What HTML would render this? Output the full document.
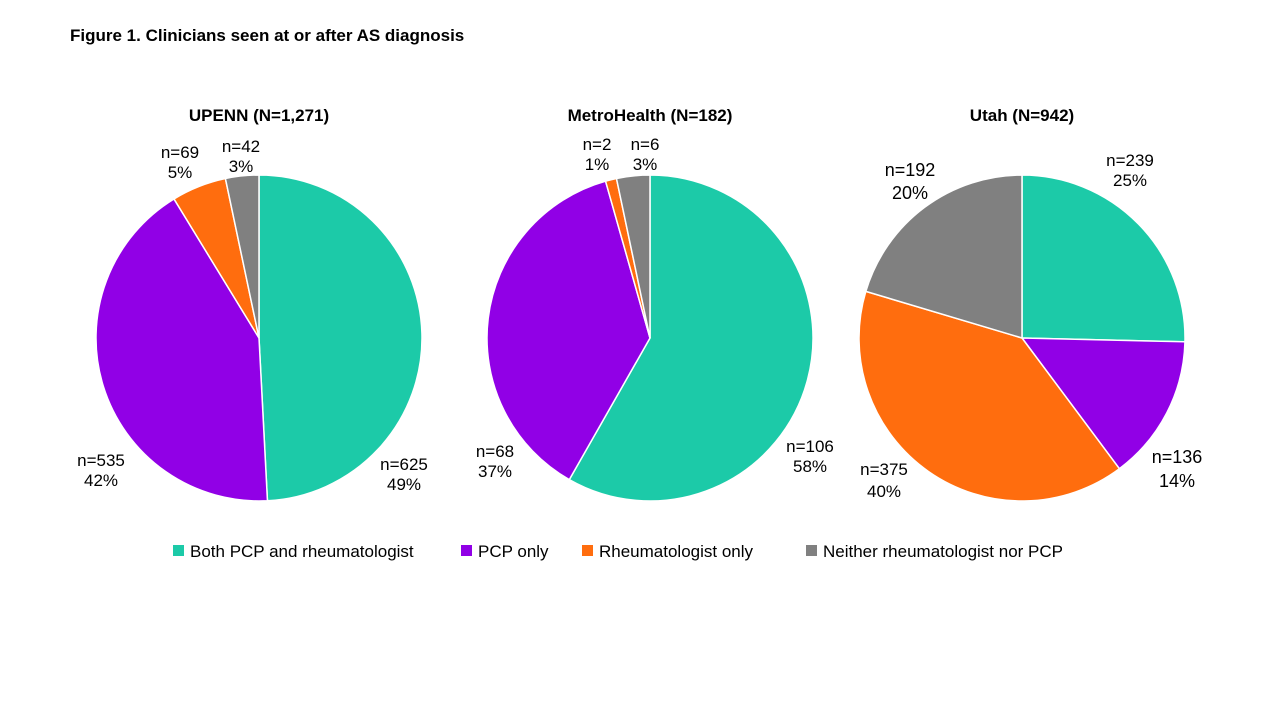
<!DOCTYPE html>
<html><head><meta charset="utf-8"><style>
html,body{margin:0;padding:0;background:#fff;}
body{width:1280px;height:720px;position:relative;overflow:hidden;font-family:"Liberation Sans",Arial,sans-serif;color:#000;}
svg{position:absolute;left:0;top:0;}
</style></head><body>
<svg id="chart" width="1280" height="720">
<text x="70" y="41" font-size="17" font-weight="bold">Figure 1. Clinicians seen at or after AS diagnosis</text>
<g id="pies"></g>
<g font-size="17">
<rect x="173" y="545" width="11" height="11" fill="#1ccaa8"/>
<text x="190" y="557">Both PCP and rheumatologist</text>
<rect x="461" y="545" width="11" height="11" fill="#9100e6"/>
<text x="478" y="557">PCP only</text>
<rect x="582" y="545" width="11" height="11" fill="#ff6d0e"/>
<text x="599" y="557">Rheumatologist only</text>
<rect x="806" y="545" width="11" height="11" fill="#808080"/>
<text x="823" y="557">Neither rheumatologist nor PCP</text>
</g>
<g font-size="17" text-anchor="middle">
<g>
<text x="180" y="158">n=69</text><text x="180" y="178">5%</text>
<text x="241" y="152">n=42</text><text x="241" y="172">3%</text>
<text x="101" y="466">n=535</text><text x="101" y="486">42%</text>
<text x="404" y="470">n=625</text><text x="404" y="490">49%</text>
</g>
<g>
<text x="597" y="150">n=2</text><text x="597" y="170">1%</text>
<text x="645" y="150">n=6</text><text x="645" y="170">3%</text>
<text x="495" y="457">n=68</text><text x="495" y="477">37%</text>
<text x="810" y="452">n=106</text><text x="810" y="472">58%</text>
</g>
<g font-size="18">
<text x="910" y="176">n=192</text><text x="910" y="199">20%</text>
<text x="1130" y="166" font-size="17">n=239</text><text x="1130" y="186" font-size="17">25%</text>
<text x="1177" y="463">n=136</text><text x="1177" y="487">14%</text>
<text x="884" y="475" font-size="17">n=375</text><text x="884" y="497" font-size="17">40%</text>
</g>
</g>
</svg>
<script>
const pieTitles = ["UPENN (N=1,271)", "MetroHealth (N=182)", "Utah (N=942)"];
const upennValues = [625, 535, 69, 42];
const metroValues = [106, 68, 2, 6];
const utahValues = [239, 136, 375, 192];
const categories = ["both", "pcp-only", "rheum-only", "neither"];
const colors = ["#1ccaa8", "#9100e6", "#ff6d0e", "#808080"];
const series = [upennValues, metroValues, utahValues];
const centersX = [259, 650, 1022];
const cy = 338, R = 163;
const ns = "http://www.w3.org/2000/svg";
const g = document.getElementById("pies");
function pt(cx, a){ return [cx + R*Math.sin(a), cy - R*Math.cos(a)]; }
series.forEach((vals, i) => {
  const cx = centersX[i];
  const total = vals.reduce((s,v)=>s+v,0);
  const t = document.createElementNS(ns, "text");
  
  
  t.setAttribute("x", cx); t.setAttribute("y", 121);
  t.setAttribute("text-anchor", "middle"); t.setAttribute("font-size", "17"); t.setAttribute("font-weight", "bold");
  t.textContent = pieTitles[i];
  g.appendChild(t);
  let a0 = 0;
  vals.forEach((v, j) => {
    const a1 = a0 + v / total * Math.PI * 2;
    const [x0,y0] = pt(cx,a0), [x1,y1] = pt(cx,a1);
    const large = (a1 - a0) > Math.PI ? 1 : 0;
    const p = document.createElementNS(ns, "path");
    
    
    p.setAttribute("d", `M${cx},${cy} L${x0},${y0} A${R},${R} 0 ${large} 1 ${x1},${y1} Z`);
    p.setAttribute("fill", colors[j]);
    p.setAttribute("stroke", "#fff");
    p.setAttribute("stroke-width", "1.5");
    g.appendChild(p);
    a0 = a1;
  });
});
</script>
</body></html>
